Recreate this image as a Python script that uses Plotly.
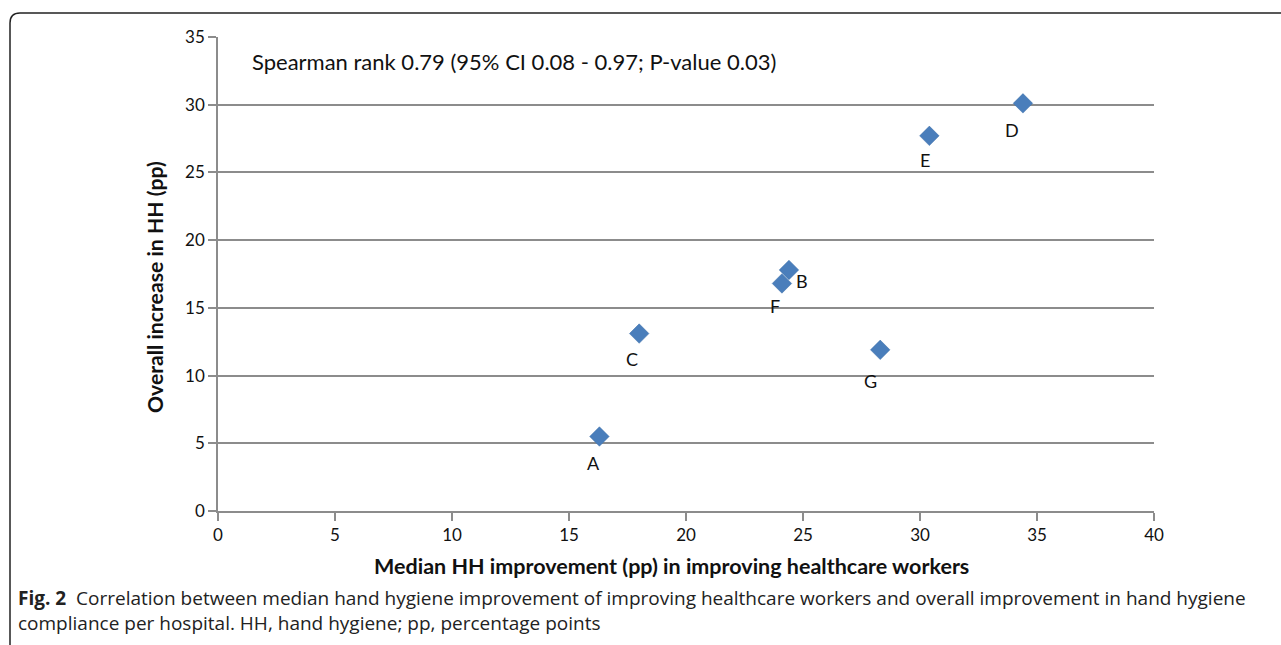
import plotly.graph_objects as go

# data
labels = ["A", "B", "C", "D", "E", "F", "G"]
median_improvement = [16.3, 24.4, 18.0, 34.4, 30.4, 24.1, 28.3]
overall_increase = [5.5, 17.8, 13.1, 30.1, 27.7, 16.8, 11.9]
x_ticks = [0, 5, 10, 15, 20, 25, 30, 35, 40]
y_ticks = [0, 5, 10, 15, 20, 25, 30, 35]

# label pixel offsets (style)
label_shift = {"A": (-6, -26), "B": (13, -11), "C": (-7, -25), "D": (-11, -27),
               "E": (-4, -24), "F": (-7, -23), "G": (-10, -31)}

W, H = 1281, 645
L, R, T, B = 218, W - 1154, 37, H - 511
PW, PH = W - L - R, H - T - B

def px(x):
    return (x - L) / PW

def py(y):
    return (H - B - y) / PH

FONT = "Lato"

fig = go.Figure()
fig.add_trace(go.Scatter(
    x=median_improvement, y=overall_increase, mode="markers",
    marker=dict(symbol="diamond", size=15, color="#4a7ebb",
                line=dict(width=0.5, color="#3d6ea8")),
    hoverinfo="x+y", showlegend=False,
))

annotations = []
for lab, xv, yv in zip(labels, median_improvement, overall_increase):
    dx, dy = label_shift[lab]
    annotations.append(dict(x=xv, y=yv, xref="x", yref="y", text=lab, showarrow=False,
                            xshift=dx, yshift=dy, font=dict(family=FONT, size=18, color="#111")))

annotations += [
    dict(x=px(250), y=py(61), xref="paper", yref="paper", xanchor="left", yanchor="middle",
         text="Spearman rank 0.79 (95% CI 0.08 - 0.97; P-value 0.03)", showarrow=False,
         font=dict(family=FONT, size=22, color="#111")),
    dict(x=px(671), y=py(566), xref="paper", yref="paper", xanchor="center", yanchor="middle",
         text="<b>Median HH improvement (pp) in improving healthcare workers</b>", showarrow=False,
         font=dict(family=FONT, size=21.5, color="#111")),
    dict(x=px(155), y=py(287), xref="paper", yref="paper", xanchor="center", yanchor="middle",
         text="<b>Overall increase in HH (pp)</b>", showarrow=False, textangle=-90,
         font=dict(family=FONT, size=21.2, color="#111")),
    dict(x=px(17), y=py(598), xref="paper", yref="paper", xanchor="left", yanchor="middle",
         text="<b>Fig. 2</b>  Correlation between median hand hygiene improvement of improving healthcare workers and overall improvement in hand hygiene",
         showarrow=False, borderpad=0, font=dict(family="Open Sans", size=19, color="#222")),
    dict(x=px(17), y=py(623), xref="paper", yref="paper", xanchor="left", yanchor="middle",
         text="compliance per hospital. HH, hand hygiene; pp, percentage points",
         showarrow=False, borderpad=0, font=dict(family="Open Sans", size=19, color="#222")),
]

# rounded frame (top-left corner)
r = 10
x0, x1 = px(10), px(W + 20)
y0, y1 = py(13), py(H + 20)
rx, ry = r / PW, r / PH
path = (f"M {x0},{y1} L {x0},{y0 - ry} Q {x0},{y0} {x0 + rx},{y0} L {x1},{y0}")

fig.update_layout(
    width=W, height=H,
    margin=dict(l=L, r=R, t=T, b=B),
    paper_bgcolor="white", plot_bgcolor="white",
    annotations=annotations,
    shapes=[dict(type="path", path=path, xref="paper", yref="paper",
                 line=dict(color="#222", width=1.5), layer="above")],
    xaxis=dict(range=[0, 40], tickvals=x_ticks, showgrid=False, zeroline=False,
               showline=True, linecolor="#8c8c8c", linewidth=1.5,
               ticks="outside", ticklen=8, tickcolor="#8c8c8c", tickwidth=1.5,
               tickfont=dict(family=FONT, size=17, color="#111")),
    yaxis=dict(range=[0, 35], tickvals=y_ticks, showgrid=True, gridcolor="#8c8c8c", gridwidth=1.5,
               zeroline=False, showline=True, linecolor="#8c8c8c", linewidth=1.5,
               ticks="outside", ticklen=8, tickcolor="#8c8c8c", tickwidth=1.5,
               tickfont=dict(family=FONT, size=17, color="#111")),
)

fig.write_html("out.html", config={"displayModeBar": False},
               post_script="document.body.style.margin='0';document.body.style.overflow='hidden';")
